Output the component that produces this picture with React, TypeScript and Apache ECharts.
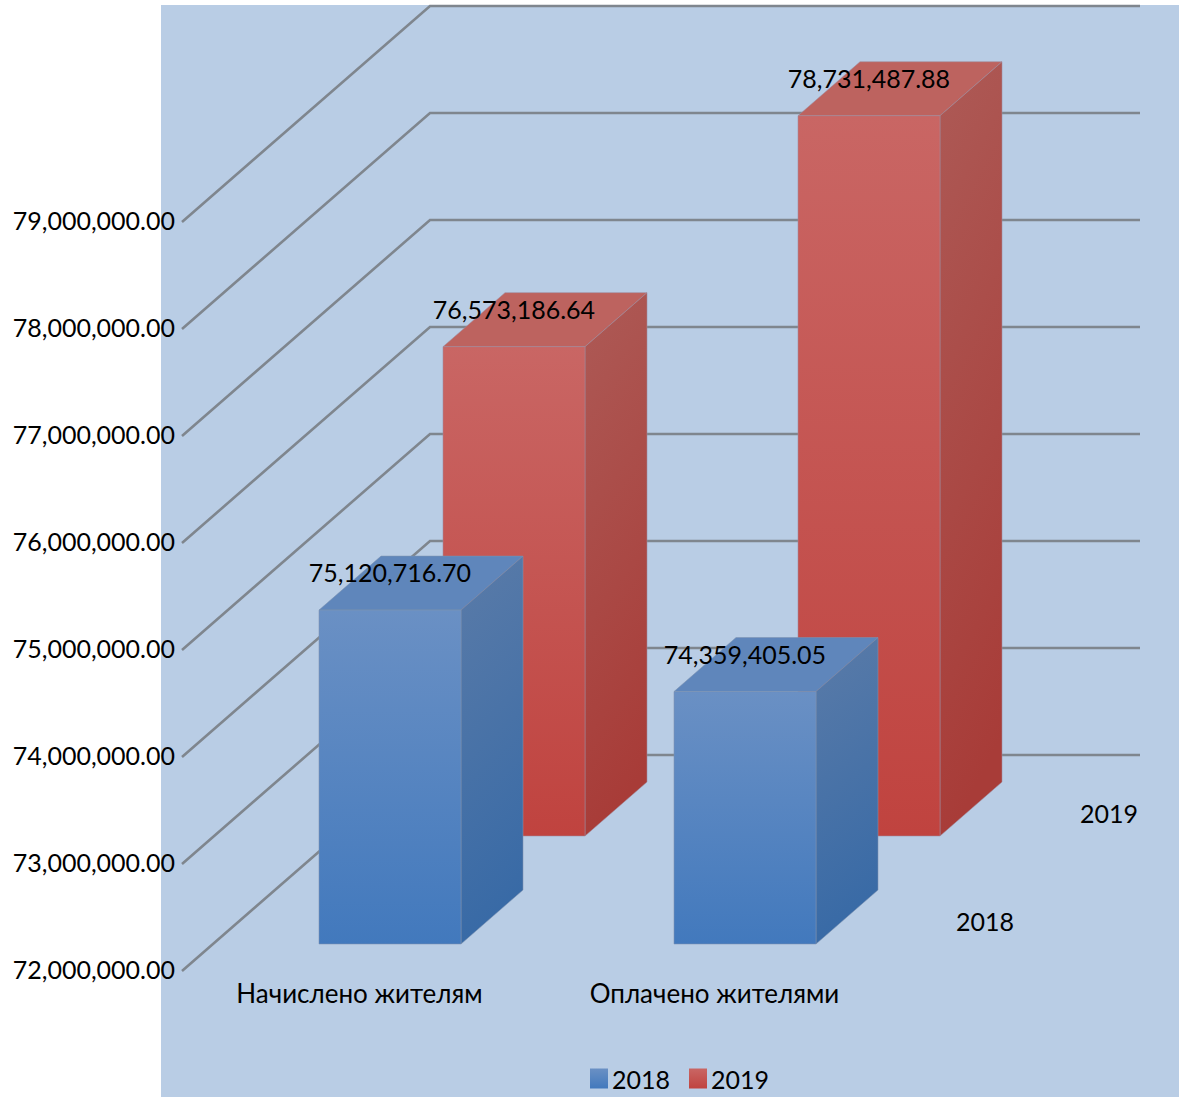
import React, { useEffect, useRef } from "react";
import * as echarts from "echarts";

const categories = ["Начислено жителям", "Оплачено жителями"];
const values2018 = [75120716.7, 74359405.05];
const values2019 = [76573186.64, 78731487.88];
const yTicks = [72000000, 73000000, 74000000, 75000000, 76000000, 77000000, 78000000, 79000000];
const seriesNames = ["2018", "2019"];

const FONT = "Lato, 'Open Sans', sans-serif";
const FS = 25;
const WALL_DX = 248;
const WALL_DY = 216;
const DEPTH_DX = 62;
const DEPTH_DY = 54;
const lin = (a: string, b: string, x2 = 0) =>
  new echarts.graphic.LinearGradient(0, 0, x2, 1, [
    { offset: 0, color: a },
    { offset: 1, color: b },
  ]);
const fmt = (v: number) =>
  v.toLocaleString("en-US", { minimumFractionDigits: 2, maximumFractionDigits: 2 });

function barRenderer(planeDx: number, planeDy: number, c: any) {
  return (params: any, api: any) => {
    const cat = api.value(0);
    const val = api.value(1);
    const band = api.size([1, 0])[0];
    const w = band * 0.4;
    const top = api.coord([cat, val]);
    const base = api.coord([cat, yTicks[0]]);
    const x0 = top[0] + planeDx - w / 2;
    const x1 = x0 + w;
    const yT = top[1] - planeDy;
    const yB = base[1] - planeDy;
    const stroke = { stroke: c.edge, lineWidth: 1, strokeOpacity: 0.55 };
    return {
      type: "group",
      children: [
        {
          type: "polygon",
          shape: { points: [[x0, yT], [x1, yT], [x1 + DEPTH_DX, yT - DEPTH_DY], [x0 + DEPTH_DX, yT - DEPTH_DY]] },
          style: { fill: c.top, ...stroke },
        },
        {
          type: "polygon",
          shape: { points: [[x1, yT], [x1 + DEPTH_DX, yT - DEPTH_DY], [x1 + DEPTH_DX, yB - DEPTH_DY], [x1, yB]] },
          style: { fill: lin(c.sideA, c.sideB, 0.15), ...stroke },
        },
        {
          type: "polygon",
          shape: { points: [[x0, yT], [x1, yT], [x1, yB], [x0, yB]] },
          style: { fill: lin(c.frontA, c.frontB), ...stroke },
        },
        {
          type: "text",
          z2: 100,
          style: {
            text: fmt(val),
            x: (x0 + x1) / 2,
            y: yT - 38,
            align: "center",
            verticalAlign: "middle",
            fontFamily: FONT,
            fontSize: FS,
            fill: "#000",
          },
        },
      ],
    };
  };
}

const BLUE = { top: "#5f86bb", sideA: "#5a7ba8", sideB: "#386aa6", frontA: "#6a90c4", frontB: "#4279bd", edge: "#7f93b0" };
const RED = { top: "#bd635f", sideA: "#ad5a56", sideB: "#a83c38", frontA: "#c96664", frontB: "#c0433f", edge: "#a08c9c" };

export default function App() {
  const ref = useRef<HTMLDivElement>(null);
  useEffect(() => {
    document.body.style.margin = "0";
    const chart = echarts.init(ref.current!, null, { renderer: "svg" });
    chart.setOption({
      animation: false,
      backgroundColor: "#ffffff",
      textStyle: { fontFamily: FONT },
      grid: { left: 182, width: 710, top: 222, bottom: 126, containLabel: false },
      graphic: [
        {
          type: "rect",
          z: -10,
          silent: true,
          shape: { x: 161, y: 5, width: 1018, height: 1092 },
          style: { fill: "#b9cde5" },
        },
        {
          type: "text",
          x: 985,
          y: 921,
          z: 10,
          style: { text: seriesNames[0], align: "center", verticalAlign: "middle", fontFamily: FONT, fontSize: FS, fill: "#000" },
        },
        {
          type: "text",
          x: 1109,
          y: 813,
          z: 10,
          style: { text: seriesNames[1], align: "center", verticalAlign: "middle", fontFamily: FONT, fontSize: FS, fill: "#000" },
        },
      ],
      legend: {
        data: seriesNames,
        left: 585,
        top: 1061,
        icon: "rect",
        itemWidth: 18,
        itemHeight: 20,
        itemGap: 19,
        textStyle: { fontFamily: FONT, fontSize: FS, color: "#000", padding: [0, 0, 0, -1] },
      },
      xAxis: {
        type: "category",
        data: categories,
        axisLine: { show: false },
        axisTick: { show: false },
        splitLine: { show: false },
        axisLabel: { color: "#000", fontFamily: FONT, fontSize: 26, margin: 9, interval: 0 },
      },
      yAxis: {
        type: "value",
        min: yTicks[0],
        max: yTicks[yTicks.length - 1],
        interval: 1000000,
        axisLine: { show: false },
        axisTick: { show: false },
        splitLine: { show: false },
        axisLabel: {
          color: "#000",
          fontFamily: FONT,
          fontSize: FS,
          margin: 7,
          formatter: (v: number) => `{a|${fmt(v)}}`,
          rich: {
            a: { fontFamily: FONT, fontSize: FS, color: "#000", padding: [0, 0, 4, 0] },
          },
        },
      },
      series: [
        {
          type: "custom",
          name: "walls",
          silent: true,
          z: 1,
          data: yTicks.map((t) => [0, t]),
          renderItem: (params: any, api: any) => {
            const p = api.coord([0, api.value(1)]);
            const x = params.coordSys.x;
            const w = params.coordSys.width;
            return {
              type: "polyline",
              shape: { points: [[x, p[1]], [x + WALL_DX, p[1] - WALL_DY], [x + WALL_DX + w, p[1] - WALL_DY]] },
              style: { stroke: "#7f868e", lineWidth: 2.6, fill: "none" },
            };
          },
        },
        {
          type: "custom",
          name: "2019",
          z: 2,
          itemStyle: { color: lin(RED.frontA, RED.frontB) },
          data: values2019.map((v, i) => [i, v]),
          renderItem: barRenderer(154.5, 135, RED),
        },
        {
          type: "custom",
          name: "2018",
          z: 3,
          itemStyle: { color: lin(BLUE.frontA, BLUE.frontB) },
          data: values2018.map((v, i) => [i, v]),
          renderItem: barRenderer(30.5, 27, BLUE),
        },
      ],
    });
    return () => chart.dispose();
  }, []);
  return <div ref={ref} style={{ width: 1179, height: 1097 }} />;
}
